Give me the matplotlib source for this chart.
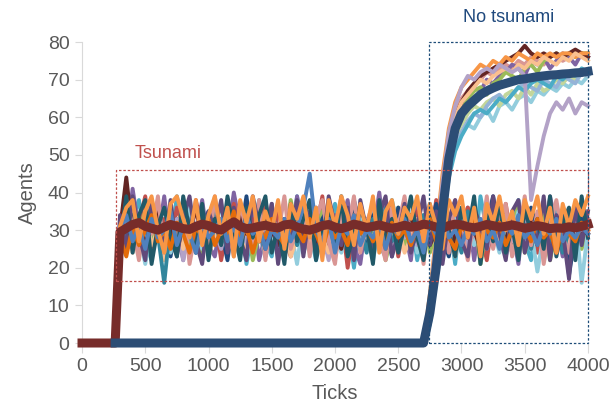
import numpy as np
import matplotlib.pyplot as plt
from matplotlib.patches import Rectangle

plt.rcParams['font.family'] = ['Liberation Sans', 'DejaVu Sans']

# --- tsunami runs: sampled every 50 ticks from 300 to 4000 (75 values each) ---
tsu_ticks = np.arange(300, 4001, 50)

tsu_runs = {
    '#4BACC6': [29, 24, 33, 38, 27, 22, 35, 30, 26, 39, 31, 23, 28, 36, 25,
                32, 37, 24, 29, 34, 21, 30, 38, 27, 23, 35, 31, 26, 39, 24,
                30, 22, 34, 28, 37, 25, 31, 20, 33, 29, 36, 26, 23, 38, 30,
                27, 34, 22, 31, 37, 25, 29, 33, 21, 36, 28, 24, 39, 30, 26,
                35, 23, 31, 38, 27, 22, 33, 29, 25, 37, 28, 20, 34, 30, 32],
    '#8064A2': [33, 27, 41, 30, 24, 36, 28, 39, 25, 31, 22, 34, 29, 38, 26,
                23, 33, 28, 40, 31, 26, 35, 22, 29, 37, 24, 32, 27, 39, 30,
                25, 36, 28, 23, 34, 31, 38, 26, 21, 33, 29, 40, 27, 24, 35,
                30, 22, 37, 28, 33, 26, 39, 31, 24, 29, 36, 22, 32, 27, 38,
                25, 34, 30, 21, 36, 28, 33, 26, 39, 31, 23, 35, 28, 37, 31],
    '#C0504D': [30, 35, 26, 32, 39, 24, 29, 33, 27, 36, 31, 25, 38, 30, 28,
                34, 22, 31, 37, 29, 24, 33, 30, 38, 26, 35, 28, 23, 32, 36,
                27, 30, 39, 25, 29, 34, 20, 31, 36, 28, 33, 25, 30, 37, 23,
                32, 28, 35, 30, 26, 38, 29, 33, 24, 31, 36, 27, 30, 22, 34,
                29, 37, 26, 32, 28, 35, 24, 31, 38, 27, 33, 29, 25, 36, 30],
    '#9BBB59': [28, 32, 25, 30, 35, 27, 31, 24, 33, 29, 37, 26, 30, 23, 34,
                31, 27, 36, 25, 30, 33, 22, 29, 35, 28, 31, 26, 38, 30, 24,
                32, 29, 35, 27, 23, 31, 34, 28, 37, 25, 30, 33, 22, 29, 36,
                26, 31, 28, 34, 24, 30, 36, 27, 32, 25, 29, 35, 21, 31, 28,
                33, 26, 30, 37, 24, 31, 28, 34, 22, 30, 35, 27, 32, 25, 31],
    '#1F497D': [32, 38, 28, 25, 34, 30, 37, 27, 23, 33, 29, 36, 24, 31, 35,
                27, 30, 22, 34, 28, 39, 26, 31, 29, 35, 24, 33, 30, 27, 37,
                29, 25, 33, 36, 28, 31, 24, 38, 30, 26, 34, 29, 32, 23, 36,
                31, 27, 33, 25, 30, 37, 28, 23, 34, 30, 26, 35, 29, 32, 39,
                27, 31, 24, 33, 29, 36, 30, 25, 32, 28, 34, 18, 29, 33, 31],
    '#93CDDD': [30, 26, 33, 29, 21, 31, 35, 28, 24, 32, 27, 36, 30, 25, 29,
                33, 26, 31, 28, 35, 23, 30, 27, 34, 29, 25, 32, 30, 21, 33,
                28, 31, 26, 34, 29, 24, 32, 27, 35, 30, 22, 31, 28, 33, 26,
                30, 35, 24, 29, 32, 27, 31, 25, 34, 28, 30, 26, 33, 29, 31,
                24, 32, 28, 35, 27, 30, 19, 29, 33, 26, 31, 28, 34, 16, 30],
    '#B3A2C7': [29, 33, 27, 31, 24, 35, 28, 30, 26, 33, 22, 31, 29, 34, 27,
                30, 25, 32, 28, 36, 26, 31, 29, 23, 33, 30, 27, 35, 28, 31,
                26, 34, 29, 22, 32, 28, 35, 30, 25, 31, 27, 33, 29, 24, 32,
                28, 30, 26, 34, 27, 31, 23, 30, 28, 33, 26, 29, 32, 25, 30,
                28, 34, 27, 31, 29, 25, 33, 30, 27, 32, 29, 26, 31, 28, 33],
    '#FAC090': [27, 31, 24, 29, 33, 26, 30, 22, 28, 32, 25, 30, 27, 34, 23,
                29, 31, 26, 33, 28, 24, 30, 27, 32, 25, 29, 31, 23, 28, 33,
                26, 30, 28, 24, 31, 27, 33, 29, 25, 30, 28, 32, 26, 29, 31,
                24, 28, 33, 27, 30, 26, 31, 29, 23, 32, 28, 30, 25, 33, 29,
                27, 31, 24, 30, 28, 32, 26, 29, 31, 25, 30, 27, 33, 28, 30],
    '#31859C': [31, 28, 34, 26, 30, 37, 29, 16, 32, 27, 35, 30, 24, 33, 28,
                36, 30, 25, 32, 29, 34, 27, 31, 23, 35, 28, 30, 33, 26, 31,
                29, 35, 27, 32, 25, 30, 34, 28, 31, 24, 33, 29, 36, 27, 30,
                32, 25, 29, 34, 28, 31, 26, 33, 30, 24, 35, 29, 31, 27, 33,
                30, 26, 34, 28, 31, 25, 33, 29, 27, 32, 24, 30, 35, 28, 31],
    '#632523': [30, 44, 29, 33, 26, 31, 35, 28, 30, 24, 32, 29, 36, 27, 31,
                33, 28, 30, 25, 34, 29, 31, 27, 33, 30, 26, 32, 29, 35, 28,
                31, 27, 30, 34, 29, 25, 32, 28, 31, 30, 26, 33, 29, 31, 27,
                30, 34, 28, 32, 26, 30, 29, 33, 27, 31, 28, 30, 25, 32, 29,
                31, 27, 33, 30, 28, 32, 26, 30, 29, 33, 27, 31, 28, 30, 29],
    '#D99694': [26, 38, 31, 22, 35, 29, 39, 24, 33, 28, 37, 21, 30, 36, 25,
                39, 27, 32, 23, 37, 30, 26, 38, 22, 34, 29, 39, 25, 31, 36,
                23, 33, 38, 27, 21, 35, 30, 39, 24, 32, 37, 28, 22, 36, 31,
                39, 26, 33, 21, 37, 29, 35, 24, 38, 30, 22, 34, 27, 39, 25,
                32, 37, 23, 29, 39, 26, 35, 21, 31, 38, 28, 24, 36, 30, 33],
    '#604A7B': [34, 25, 39, 29, 22, 37, 31, 26, 38, 23, 33, 39, 27, 21, 35,
                30, 38, 24, 36, 28, 22, 39, 31, 25, 37, 21, 33, 28, 38, 23,
                35, 29, 24, 39, 31, 26, 36, 22, 38, 30, 25, 34, 39, 23, 29,
                37, 24, 31, 39, 26, 35, 21, 33, 38, 27, 23, 36, 31, 25, 39,
                29, 22, 35, 38, 24, 31, 27, 39, 22, 34, 30, 17, 37, 26, 35],
    '#215968': [27, 39, 24, 34, 38, 21, 31, 36, 28, 23, 39, 30, 25, 37, 22,
                33, 26, 39, 30, 22, 36, 28, 34, 39, 24, 31, 21, 37, 27, 33,
                38, 22, 30, 35, 26, 39, 23, 29, 36, 31, 21, 38, 26, 33, 24,
                31, 39, 28, 22, 35, 26, 38, 30, 23, 36, 29, 39, 21, 34, 27,
                38, 24, 31, 22, 36, 29, 33, 25, 39, 23, 32, 36, 22, 39, 28],
    '#E46C0A': [28, 23, 31, 26, 30, 34, 27, 30, 25, 32, 29, 24, 31, 28, 33,
                26, 30, 29, 35, 27, 31, 24, 30, 28, 33, 29, 26, 31, 30, 27,
                33, 29, 25, 31, 28, 30, 26, 34, 29, 31, 27, 30, 25, 32, 28,
                30, 26, 31, 29, 33, 27, 30, 28, 25, 31, 29, 34, 27, 30, 28,
                32, 26, 30, 29, 31, 27, 33, 28, 30, 24, 31, 29, 27, 32, 30],
    '#4F81BD': [29, 34, 27, 31, 25, 33, 28, 30, 35, 26, 31, 29, 24, 32, 28,
                30, 33, 27, 31, 26, 34, 29, 31, 25, 30, 28, 33, 27, 31, 36,
                45, 30, 27, 33, 24, 31, 29, 34, 26, 30, 28, 32, 25, 31, 29,
                33, 27, 30, 24, 32, 29, 35, 28, 30, 26, 31, 29, 33, 27, 30,
                25, 32, 29, 34, 28, 30, 26, 31, 29, 33, 27, 30, 28, 31, 29],
    '#F79646': [31, 36, 38, 27, 35, 39, 30, 24, 37, 39, 33, 28, 38, 26, 34,
                39, 29, 36, 23, 38, 32, 39, 27, 35, 30, 38, 25, 37, 33, 39,
                28, 36, 22, 38, 31, 39, 34, 26, 37, 30, 39, 24, 35, 38, 29,
                36, 33, 39, 27, 37, 31, 25, 38, 34, 39, 28, 36, 23, 37, 32,
                39, 30, 35, 26, 38, 33, 39, 29, 36, 24, 37, 31, 38, 34, 39],
}

tsu_mean = [29.5, 30.5, 31.5, 32.0, 31.0, 30.5, 30.0, 30.8, 31.5, 31.0, 30.4, 30.2, 31.0, 31.6, 31.2,
            30.5, 30.0, 31.2, 32.2, 31.0, 30.4, 30.6, 31.0, 31.3, 30.8, 30.6, 31.4, 31.6, 30.8, 30.3,
            30.0, 30.5, 31.2, 31.5, 30.8, 30.4, 30.9, 31.6, 31.2, 30.7, 31.0, 31.4, 30.9, 30.5, 30.8,
            31.3, 30.8, 31.0, 31.6, 31.3, 30.8, 30.5, 31.2, 31.6, 31.4, 30.9, 30.6, 31.0, 31.5, 31.2,
            30.8, 31.0, 31.4, 31.0, 30.5, 30.8, 31.2, 30.9, 30.4, 30.6, 30.5, 30.9, 30.6, 31.0, 31.5]

# before the tsunami every run sits at zero
tsu_start_ticks = [0, 262]
tsu_start_vals = [0, 0]

# --- no-tsunami runs: sampled every 50 ticks from 2700 to 4000 (27 values each) ---
nt_ticks = np.arange(2700, 4001, 50)

nt_runs = {
    '#93CDDD': [0, 6, 18, 33, 46, 52, 56, 58, 57, 60, 62, 59, 63, 64,
                62, 65, 66, 64, 67, 66, 68, 67, 69, 68, 70, 69, 71],
    '#C3D69B': [0, 9, 22, 37, 48, 55, 58, 61, 63, 62, 64, 65, 63, 66,
                67, 65, 68, 66, 69, 67, 68, 70, 69, 71, 70, 72, 71],
    '#95B3D7': [0, 7, 19, 35, 46, 52, 56, 59, 61, 60, 63, 65, 66, 64,
                66, 68, 69, 68, 67, 70, 69, 68, 71, 70, 69, 72, 71],
    '#D99694': [0, 11, 25, 41, 53, 61, 65, 67, 69, 70, 72, 71, 73, 74,
                73, 75, 74, 76, 75, 74, 76, 77, 75, 76, 77, 76, 77],
    '#8064A2': [0, 8, 21, 36, 51, 59, 63, 66, 68, 67, 70, 69, 71, 72,
                74, 73, 71, 75, 74, 76, 73, 75, 77, 76, 74, 77, 76],
    '#4BACC6': [0, 5, 16, 31, 44, 51, 55, 58, 61, 62, 61, 63, 65, 64,
                66, 68, 67, 69, 70, 69, 68, 71, 70, 72, 71, 73, 72],
    '#9BBB59': [0, 9, 23, 38, 51, 58, 62, 65, 67, 68, 66, 69, 70, 72,
                71, 70, 73, 74, 72, 75, 76, 77, 76, 77, 76, 77, 77],
    '#632523': [0, 10, 23, 39, 52, 60, 64, 67, 69, 71, 72, 73, 74, 75,
                76, 77, 79, 77, 76, 77, 76, 77, 76, 77, 78, 77, 76],
    '#F79646': [0, 13, 29, 45, 57, 64, 68, 70, 72, 74, 73, 75, 74, 76,
                75, 77, 76, 75, 77, 76, 77, 76, 77, 77, 76, 77, 77],
    '#FAC090': [0, 10, 24, 40, 52, 60, 64, 66, 68, 70, 69, 71, 72, 73,
                72, 74, 73, 75, 74, 76, 75, 74, 76, 75, 77, 76, 75],
    '#B3A2C7': [0, 12, 27, 43, 56, 63, 68, 71, 70, 72, 73, 72, 74, 73,
                72, 73, 71, 38, 47, 55, 61, 64, 62, 65, 61, 64, 63],
}

nt_mean = [0, 8, 20, 35, 49, 57, 61, 63, 64.5, 66, 67, 67.8, 68.5, 69,
           69.5, 70, 70.2, 70.5, 70.8, 71, 71.2, 71.3, 71.5, 71.6, 71.8, 71.9, 72.2]
nt_start_tick = 262

# annotation boxes (ticks, agents)
tsu_box = (270, 16.5, 4000, 46)
nt_box = (2740, 0, 4000, 80)

grey = '#595959'
fig = plt.figure(figsize=(6.13, 4.08), dpi=100)
ax = fig.add_axes([0.1338, 0.1593, 0.8254, 0.7377])

# individual runs
for col, vals in nt_runs.items():
    ax.plot(np.r_[0, nt_ticks], np.r_[0, vals], color=col, lw=2.8, clip_on=False, zorder=2)
for col, vals in tsu_runs.items():
    ax.plot(np.r_[tsu_start_ticks, tsu_ticks], np.r_[tsu_start_vals, vals],
            color=col, lw=2.8, clip_on=False, zorder=3)

# averages
ax.plot(np.r_[tsu_start_ticks, tsu_ticks], np.r_[tsu_start_vals, tsu_mean],
        color='#772C2A', lw=6.5, clip_on=False, zorder=4)
ax.plot(np.r_[nt_start_tick, nt_ticks], np.r_[0, nt_mean],
        color='#2C4D75', lw=6.5, clip_on=False, zorder=5)

# dotted boxes
for (x0, y0, x1, y1), col in [(tsu_box, '#C0504D'), (nt_box, '#1F4E79')]:
    ax.add_patch(Rectangle((x0, y0), x1 - x0, y1 - y0, fill=False, edgecolor=col,
                           lw=0.9, linestyle=(0, (2, 1.5)), clip_on=False, zorder=6))

ax.text(680, 50.5, 'Tsunami', color='#C0504D', fontsize=13, ha='center', va='center')
ax.text(3374, 86.4, 'No tsunami', color='#1F497D', fontsize=13, ha='center', va='center',
        clip_on=False)

ax.set_xlim(0, 4000)
ax.set_ylim(0, 80)
ax.set_xticks(np.arange(0, 4001, 500))
ax.set_yticks(np.arange(0, 81, 10))
for s in ['top', 'right', 'bottom']:
    ax.spines[s].set_visible(False)
ax.spines['left'].set_color('#D9D9D9')
ax.tick_params(axis='y', colors='#D9D9D9', labelcolor=grey, labelsize=14, length=5, pad=4)
ax.tick_params(axis='x', colors='#D9D9D9', labelcolor=grey, labelsize=14, length=7, pad=4)
ax.set_xlabel('Ticks', fontsize=14.5, color=grey, labelpad=6)
ax.set_ylabel('Agents', fontsize=14.5, color=grey, labelpad=8)

fig.savefig('out.png', dpi=100)
